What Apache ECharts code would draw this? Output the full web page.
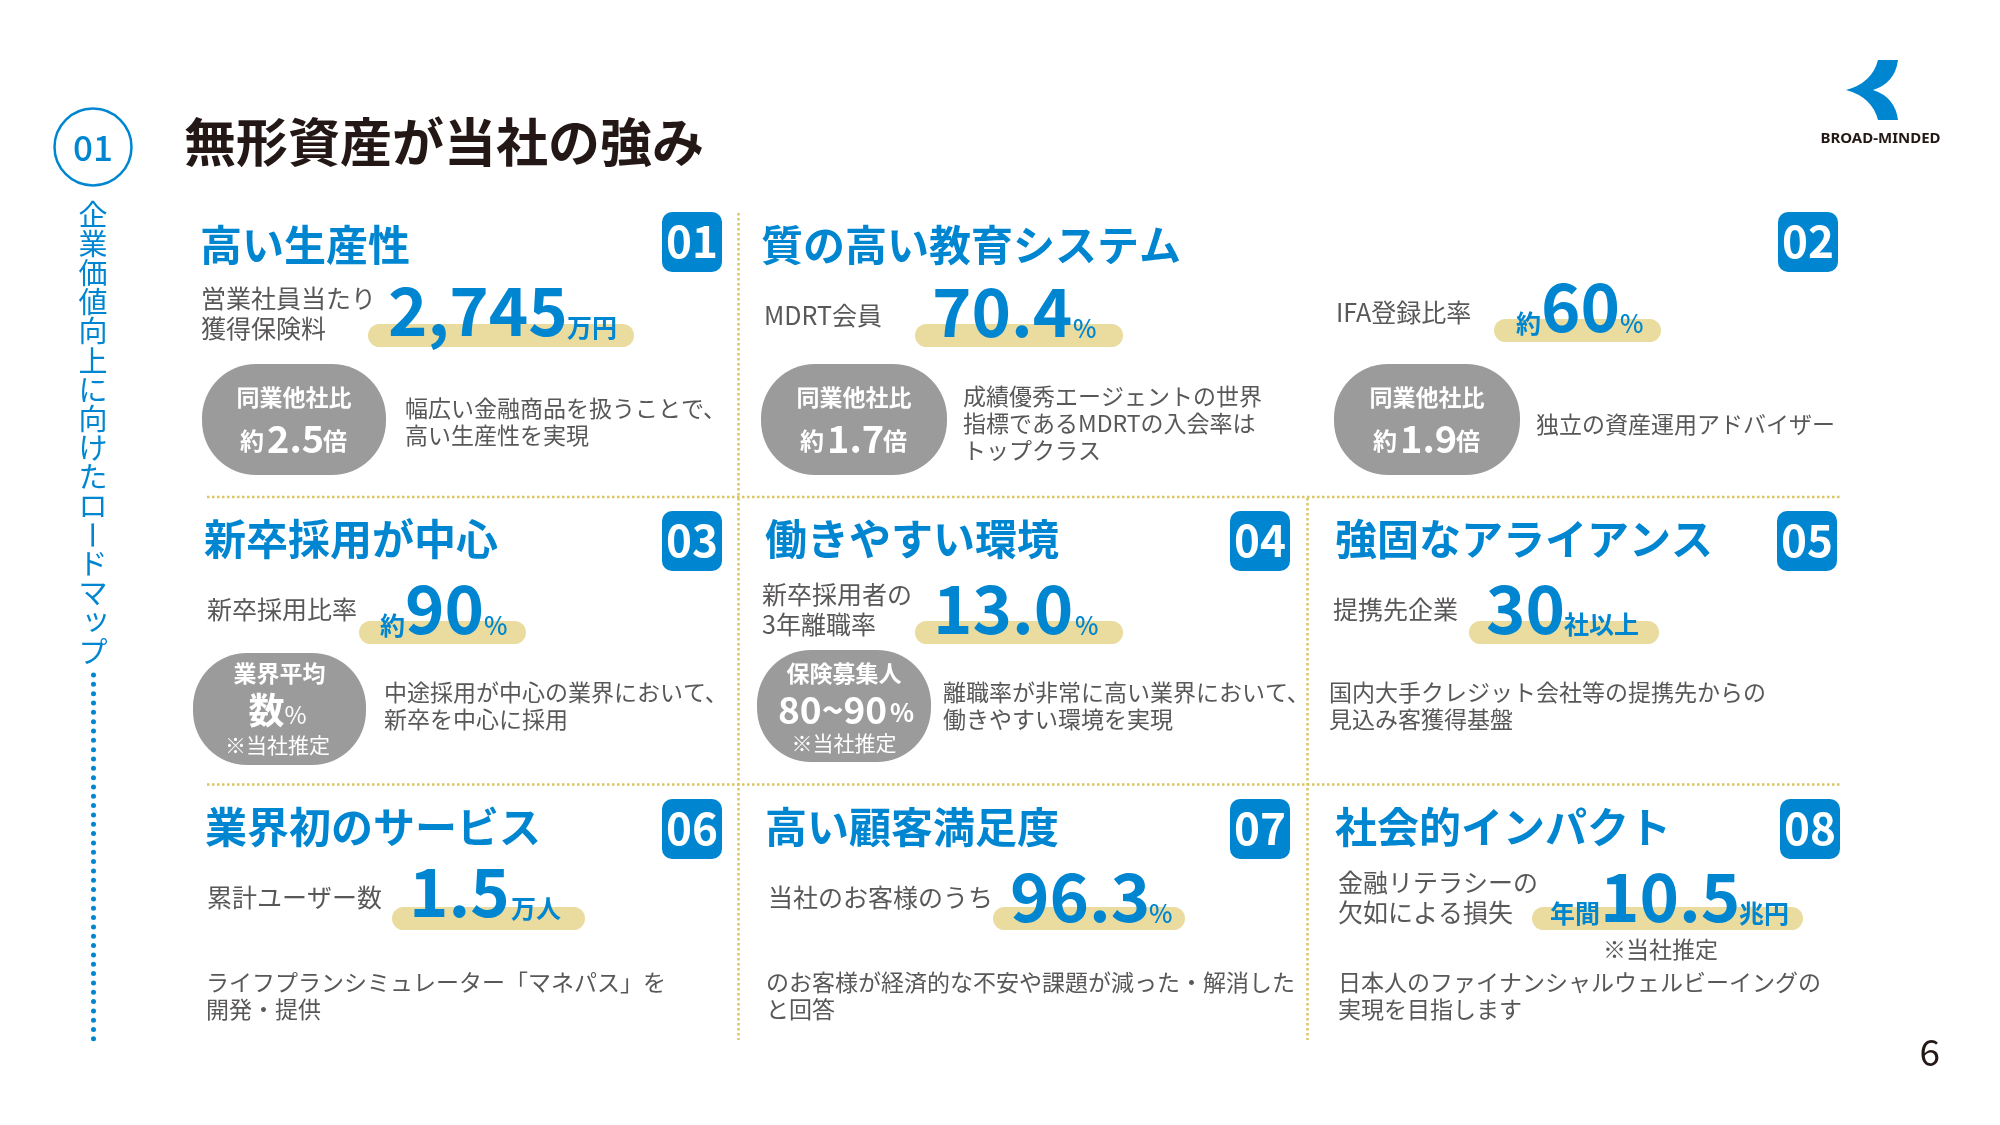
<!DOCTYPE html>
<html>
<head>
<meta charset="utf-8">
<title>無形資産が当社の強み</title>
<script src="https://cdn.jsdelivr.net/npm/echarts@6/dist/echarts.min.js"></script>
<style>
html, body { margin: 0; padding: 0; background: #fff; }
#main { width: 2000px; height: 1125px; }
</style>
</head>
<body>
<div id="main"></div>
<script>
// slide texts
const pageTitle = '無形資産が当社の強み';
const sectionNo = '01';
const sectionCaption = ['企', '業', '価', '値', '向', '上', 'に', '向', 'け', 'た', 'ロ', 'ー', 'ド', 'マ', 'ッ', 'プ'];
const logoName = 'BROAD-MINDED';
const pageNo = '6';

const cardNos = ['01', '02', '03', '04', '05', '06', '07', '08'];
const cardTitles = ['高い生産性', '質の高い教育システム', '新卒採用が中心', '働きやすい環境', '強固なアライアンス', '業界初のサービス', '高い顧客満足度', '社会的インパクト'];

// nine figures, card 02 has two of them
const metricLabels = [['営業社員当たり', '獲得保険料'], ['MDRT会員'], ['IFA登録比率'], ['新卒採用比率'], ['新卒採用者の', '3年離職率'], ['提携先企業'], ['累計ユーザー数'], ['当社のお客様のうち'], ['金融リテラシーの', '欠如による損失']];
const metricPrefixes = ['', '', '約', '約', '', '', '', '', '年間'];
const metricValues = ['2,745', '70.4', '60', '90', '13.0', '30', '1.5', '96.3', '10.5'];
const metricUnits = ['万円', '%', '%', '%', '%', '社以上', '万人', '%', '兆円'];

const bubbleHeads = ['同業他社比', '同業他社比', '同業他社比', '業界平均', '保険募集人'];
const bubblePrefixes = ['約', '約', '約', '', ''];
const bubbleValues = ['2.5', '1.7', '1.9', '数', '80~90'];
const bubbleUnits = ['倍', '倍', '倍', '%', '%'];
const bubbleNotes = ['', '', '', '※当社推定', '※当社推定'];
const estimateNote = '※当社推定';

const bodyTexts = [
  ['幅広い金融商品を扱うことで、', '高い生産性を実現'],
  ['成績優秀エージェントの世界', '指標であるMDRTの入会率は', 'トップクラス'],
  ['独立の資産運用アドバイザー'],
  ['中途採用が中心の業界において、', '新卒を中心に採用'],
  ['離職率が非常に高い業界において、', '働きやすい環境を実現'],
  ['国内大手クレジット会社等の提携先からの', '見込み客獲得基盤'],
  ['ライフプランシミュレーター「マネパス」を', '開発・提供'],
  ['のお客様が経済的な不安や課題が減った・解消した', 'と回答'],
  ['日本人のファイナンシャルウェルビーイングの', '実現を目指します']
];

// layout, in page pixels
const BLUE = '#0086d1';
const GREY = '#595757';
const INK = '#231815';
const SAND = '#e9dc9e';
const GOLD = '#dcc663';
const BUBBLE = '#9c9b9c';
const FONT = '"Noto Sans CJK JP", "Noto Sans", sans-serif';

const cardBoxes = [[662, 212], [1778, 212], [662, 511], [1230, 511], [1777, 511], [662, 799], [1230, 799], [1780, 799]];
const titleSpots = [[200, 245], [761, 245], [204, 539], [765, 539], [1335, 539], [205, 827], [765, 827], [1335, 827]];

// label x, first label y, label line gap, prefix x, number x, unit x, number mid y, unit mid y, pill x0, pill x1, pill y
const metricSpots = [
  [201, 298, 30, 0, 388, 567, 311, 327, 368, 634, 324],
  [764, 315, 30, 0, 932, 1073, 312, 328, 915, 1123, 324],
  [1336, 312, 30, 1516, 1541, 1620, 307, 323, 1494, 1661, 319],
  [207, 609, 30, 380, 405, 484, 609, 625, 359, 526, 621],
  [762, 594, 30, 0, 933, 1075, 609, 625, 915, 1123, 621],
  [1333, 609, 30, 0, 1486, 1564, 609, 624, 1469, 1659, 621],
  [207, 897, 30, 0, 409, 511, 892, 908, 392, 585, 907],
  [768, 897, 30, 0, 1010, 1149, 897, 913, 993, 1185, 907],
  [1338, 882, 30, 1550, 1600, 1739, 897, 913, 1532, 1803, 907]
];

// x0, x1, y0, y1
const bubbleSpots = [[202, 386, 364, 475], [761, 947, 364, 475], [1334, 1520, 364, 475], [193, 366, 653, 765], [757, 931, 650, 762]];
// x, first line y
const bodySpots = [[405, 408], [963, 396], [1536, 424], [384, 692], [943, 692], [1329, 692], [206, 982], [766, 982], [1338, 982]];

// logo mark has no stock shape
echarts.graphic.registerShape('logoMark', echarts.graphic.extendPath(
  'M1878 60 L1898 60 Q1895 83 1873 90 Q1895 97 1898 120 L1878 120 Q1872 97 1846 90 Q1872 83 1878 60 Z', {}
));

const els = [];
function txt(text, x, y, size, fill, weight, align, family) {
  els.push({
    type: 'text', x: x, y: y, z: 2, silent: true,
    style: {
      text: text, fill: fill,
      font: (weight || 400) + ' ' + size + 'px ' + (family || FONT),
      align: align || 'left', verticalAlign: 'middle'
    }
  });
}
function box(x0, x1, y0, y1, r, fill) {
  els.push({ type: 'rect', z: 1, silent: true, shape: { x: x0, y: y0, width: x1 - x0, height: y1 - y0, r: r }, style: { fill: fill } });
}
function dotted(x1, y1, x2, y2) {
  els.push({ type: 'line', z: 0, silent: true, shape: { x1: x1, y1: y1, x2: x2, y2: y2 }, style: { stroke: GOLD, lineWidth: 2.5, lineDash: [2.5, 2.5] } });
}

// header
els.push({ type: 'circle', z: 1, silent: true, shape: { cx: 93, cy: 147, r: 38.5 }, style: { fill: '#fff', stroke: BLUE, lineWidth: 2.5 } });
txt(sectionNo, 93, 148, 35, BLUE, 500, 'center');
txt(pageTitle, 184, 142, 52, INK, 700);
sectionCaption.forEach((ch, i) => {
  const y = 215 + i * 29.1;
  if (ch === 'ー') {
    els.push({
      type: 'text', x: 92, y: y, z: 2, rotation: -Math.PI / 2, silent: true,
      style: { text: ch, fill: BLUE, font: '400 29px ' + FONT, align: 'center', verticalAlign: 'middle' }
    });
  } else {
    txt(ch, ch === 'ッ' ? 96 : 93, ch === 'ッ' ? y - 3 : y, 29, BLUE, 400, 'center');
  }
});
els.push({
  type: 'line', z: 1, silent: true, shape: { x1: 93.5, y1: 675, x2: 93.5, y2: 1043 },
  style: { stroke: BLUE, lineWidth: 5, lineCap: 'round', lineDash: [0, 9.33] }
});

// logo
els.push({ type: 'logoMark', z: 1, silent: true, style: { fill: BLUE } });
txt(logoName, 1880.5, 139, 15, INK, 700, 'center', '"Noto Sans", sans-serif');
txt(pageNo, 1940, 1052, 37, INK, 400, 'right');

// dividers
dotted(738.5, 213, 738.5, 1040);
dotted(1307.5, 498, 1307.5, 1040);
dotted(207, 497, 1842, 497);
dotted(207, 784.5, 1842, 784.5);

// cards
cardNos.forEach((no, i) => {
  const b = cardBoxes[i];
  box(b[0], b[0] + 60, b[1], b[1] + 60, 10, BLUE);
  txt(no, b[0] + 30, b[1] + 29, 44, '#fff', 700, 'center');
  txt(cardTitles[i], titleSpots[i][0], titleSpots[i][1], 42, BLUE, 700);
});

// figures with their sand coloured pill
metricValues.forEach((v, i) => {
  const s = metricSpots[i];
  box(s[8], s[9], s[10], s[10] + 23, 11.5, SAND);
  metricLabels[i].forEach((line, k) => txt(line, s[0], s[1] + k * s[2], 25, GREY));
  if (metricPrefixes[i]) txt(metricPrefixes[i], s[3], s[7], 25, BLUE, 700);
  txt(v, s[4], s[6], 67, BLUE, 700);
  txt(metricUnits[i], s[5], s[7], 25, BLUE, metricUnits[i] === '%' ? 500 : 700);
});
txt(estimateNote, 1603, 949, 23, GREY);

// grey bubbles
bubbleValues.forEach((v, i) => {
  const s = bubbleSpots[i];
  const cx = (s[0] + s[1]) / 2;
  box(s[0], s[1], s[2], s[3], 54, BUBBLE);
  if (bubbleNotes[i]) {
    txt(bubbleHeads[i], cx, i === 3 ? s[2] + 20 : s[2] + 23, 23, '#fff', 700, 'center');
    txt(bubbleNotes[i], i === 3 ? cx - 2 : cx, i === 3 ? s[2] + 92 : s[2] + 93, 21, '#fff', 400, 'center');
    if (i === 3) {
      txt(v, cx - 31, s[2] + 57, 36, '#fff', 700);
      txt(bubbleUnits[i], cx + 5, s[2] + 62, 24, '#fff', 400);
    } else {
      txt(v, cx - 66, s[2] + 60, 37, '#fff', 700);
      txt(bubbleUnits[i], cx + 46, s[2] + 62, 25, '#fff', 700);
    }
  } else {
    txt(bubbleHeads[i], cx, s[2] + 33, 23, '#fff', 700, 'center');
    txt(bubblePrefixes[i], cx - 54, s[2] + 77, 24, '#fff', 700);
    txt(v, cx - 27, s[2] + 75, 38, '#fff', 700);
    txt(bubbleUnits[i], cx + 29, s[2] + 77, 24, '#fff', 700);
  }
});

// descriptions
bodyTexts.forEach((lines, i) => {
  lines.forEach((line, k) => txt(line, bodySpots[i][0], bodySpots[i][1] + k * 27.3, 23, GREY));
});

const chart = echarts.init(document.getElementById('main'), null, { renderer: 'canvas' });
chart.setOption({
  backgroundColor: '#fff',
  animation: false,
  graphic: { elements: els }
});
</script>
</body>
</html>
